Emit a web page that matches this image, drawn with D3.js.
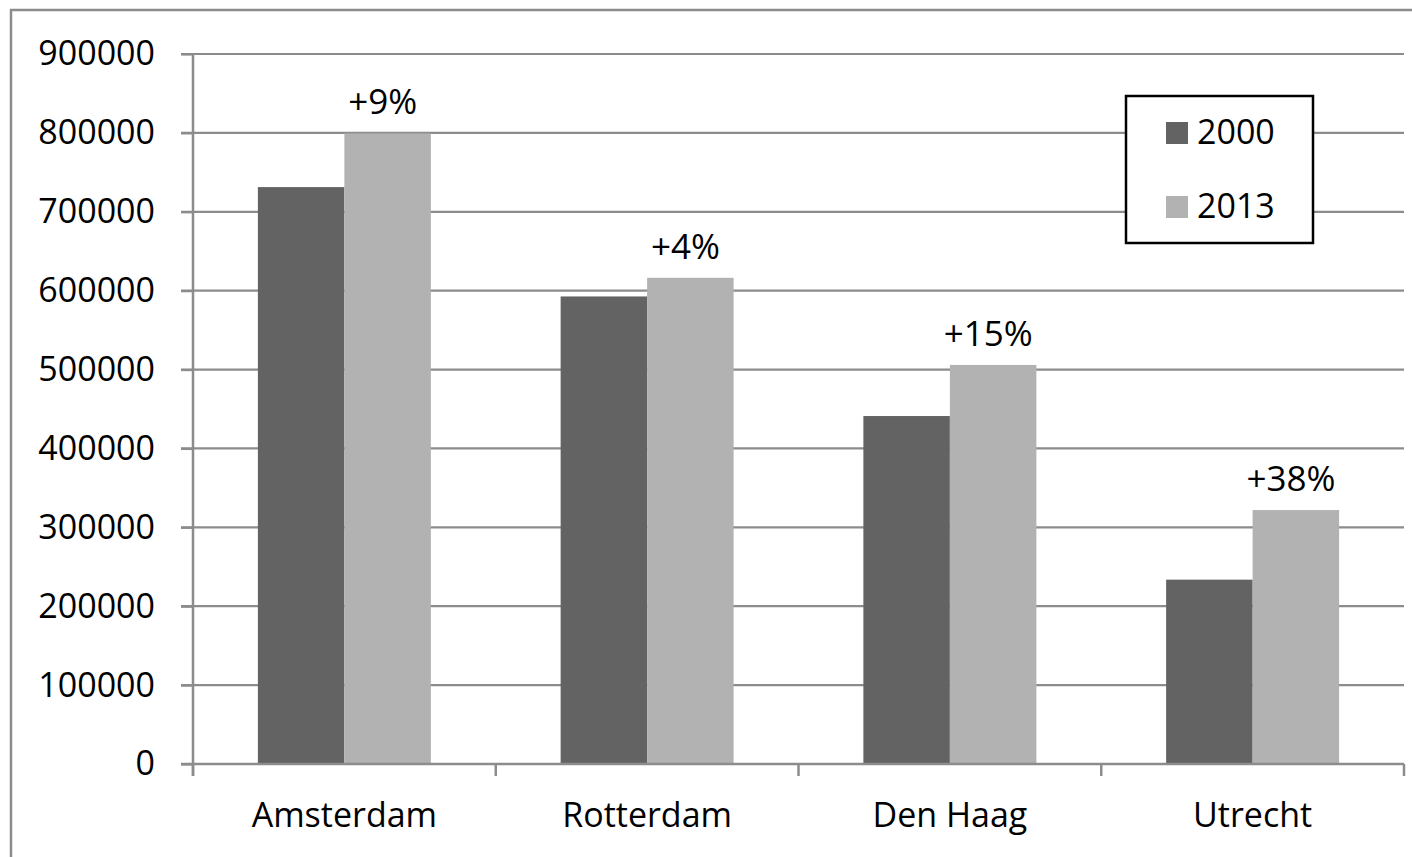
<!DOCTYPE html>
<html>
<head>
<meta charset="utf-8">
<script src="https://cdn.jsdelivr.net/npm/d3@7"></script>
<style>
  html, body { margin: 0; padding: 0; background: #fff; }
  svg { display: block; }
  text { font-family: "Open Sans", sans-serif; fill: #000; }
</style>
</head>
<body>
<svg id="chart" width="1412" height="857"></svg>
<script>
const categories = ["Amsterdam", "Rotterdam", "Den Haag", "Utrecht"];
const seriesNames = ["2000", "2013"];
const values2000 = [731288, 592665, 441094, 233667];
const values2013 = [799345, 616294, 505856, 321916];
const changeLabels = ["+9%", "+4%", "+15%", "+38%"];
const yTicks = [0, 100000, 200000, 300000, 400000, 500000, 600000, 700000, 800000, 900000];
const colors = ["#636363", "#b2b2b2"];

const svg = d3.select("#chart");
const W = 1412, H = 857;
const plot = { left: 193, right: 1404, top: 54, bottom: 764 };

// outer chart border
svg.append("path")
  .attr("d", `M11,${H + 5} L11,10 L${W + 5},10`)
  .attr("fill", "none").attr("stroke", "#8c8c8c").attr("stroke-width", 2.5);

const y = d3.scaleLinear().domain([0, 900000]).range([plot.bottom, plot.top]);
const x0 = d3.scaleBand().domain(categories).range([plot.left, plot.right]).paddingInner(0.4286).paddingOuter(0.2143);
const x1 = d3.scaleBand().domain(seriesNames).range([0, x0.bandwidth()]);

// gridlines
svg.append("g").selectAll("line").data(yTicks.filter(d => d > 0)).join("line")
  .attr("x1", plot.left - 12).attr("x2", plot.right)
  .attr("y1", d => y(d)).attr("y2", d => y(d))
  .attr("stroke", "#8c8c8c").attr("stroke-width", 2.2);

// bars
const data = categories.map((c, i) => ({ cat: c, vals: [values2000[i], values2013[i]], label: changeLabels[i] }));
const groups = svg.append("g").selectAll("g").data(data).join("g")
  .attr("transform", d => `translate(${x0(d.cat)},0)`);
groups.selectAll("rect").data(d => d.vals.map((v, j) => ({ key: seriesNames[j], v, j }))).join("rect")
  .attr("x", d => x1(d.key)).attr("width", x1.bandwidth())
  .attr("y", d => y(d.v)).attr("height", d => plot.bottom - y(d.v))
  .attr("fill", d => colors[d.j]);

// change labels
groups.append("text")
  .attr("x", d => x1("2013") + x1.bandwidth() / 2 - 5)
  .attr("y", d => y(d.vals[1]) - 19)
  .attr("text-anchor", "middle").attr("font-size", 35)
  .text(d => d.label);

// y axis
const yAxis = svg.append("g").attr("transform", `translate(${plot.left},0)`)
  .call(d3.axisLeft(y).tickValues(yTicks).tickSize(12).tickPadding(26).tickFormat(d3.format("d")));
yAxis.select(".domain").attr("stroke", "#8c8c8c").attr("stroke-width", 2.5).attr("d", `M0,${plot.top}V${plot.bottom + 12}`);
yAxis.selectAll(".tick line").attr("stroke", "#8c8c8c").attr("stroke-width", 2.2);
yAxis.selectAll(".tick text").attr("font-size", 34).attr("font-family", "Open Sans, sans-serif").attr("fill", "#000");

// x axis
const xAxis = svg.append("g").attr("transform", `translate(0,${plot.bottom})`)
  .call(d3.axisBottom(x0).tickSize(0).tickPadding(39));
xAxis.select(".domain").remove();
xAxis.append("line").attr("x1", plot.left - 12).attr("x2", plot.right).attr("y1", 0).attr("y2", 0)
  .attr("stroke", "#8c8c8c").attr("stroke-width", 2.5);
const boundaries = d3.range(categories.length + 1).map(i => plot.left + i * (plot.right - plot.left) / categories.length);
xAxis.selectAll(".bound").data(boundaries).join("line").attr("class", "bound")
  .attr("x1", d => d).attr("x2", d => d).attr("y1", 0).attr("y2", 12)
  .attr("stroke", "#8c8c8c").attr("stroke-width", 2.5);
xAxis.selectAll(".tick text").attr("font-size", 34).attr("font-family", "Open Sans, sans-serif").attr("fill", "#000");

// legend
const lg = svg.append("g");
lg.append("rect").attr("x", 1126).attr("y", 96).attr("width", 187).attr("height", 147)
  .attr("fill", "#fff").attr("stroke", "#000").attr("stroke-width", 2.5);
seriesNames.forEach((s, i) => {
  const cy = 133 + i * 74;
  lg.append("rect").attr("x", 1166).attr("y", cy - 11).attr("width", 22).attr("height", 22).attr("fill", colors[i]);
  lg.append("text").attr("x", 1197).attr("y", cy + 11).attr("font-size", 34).text(s);
});
</script>
</body>
</html>
